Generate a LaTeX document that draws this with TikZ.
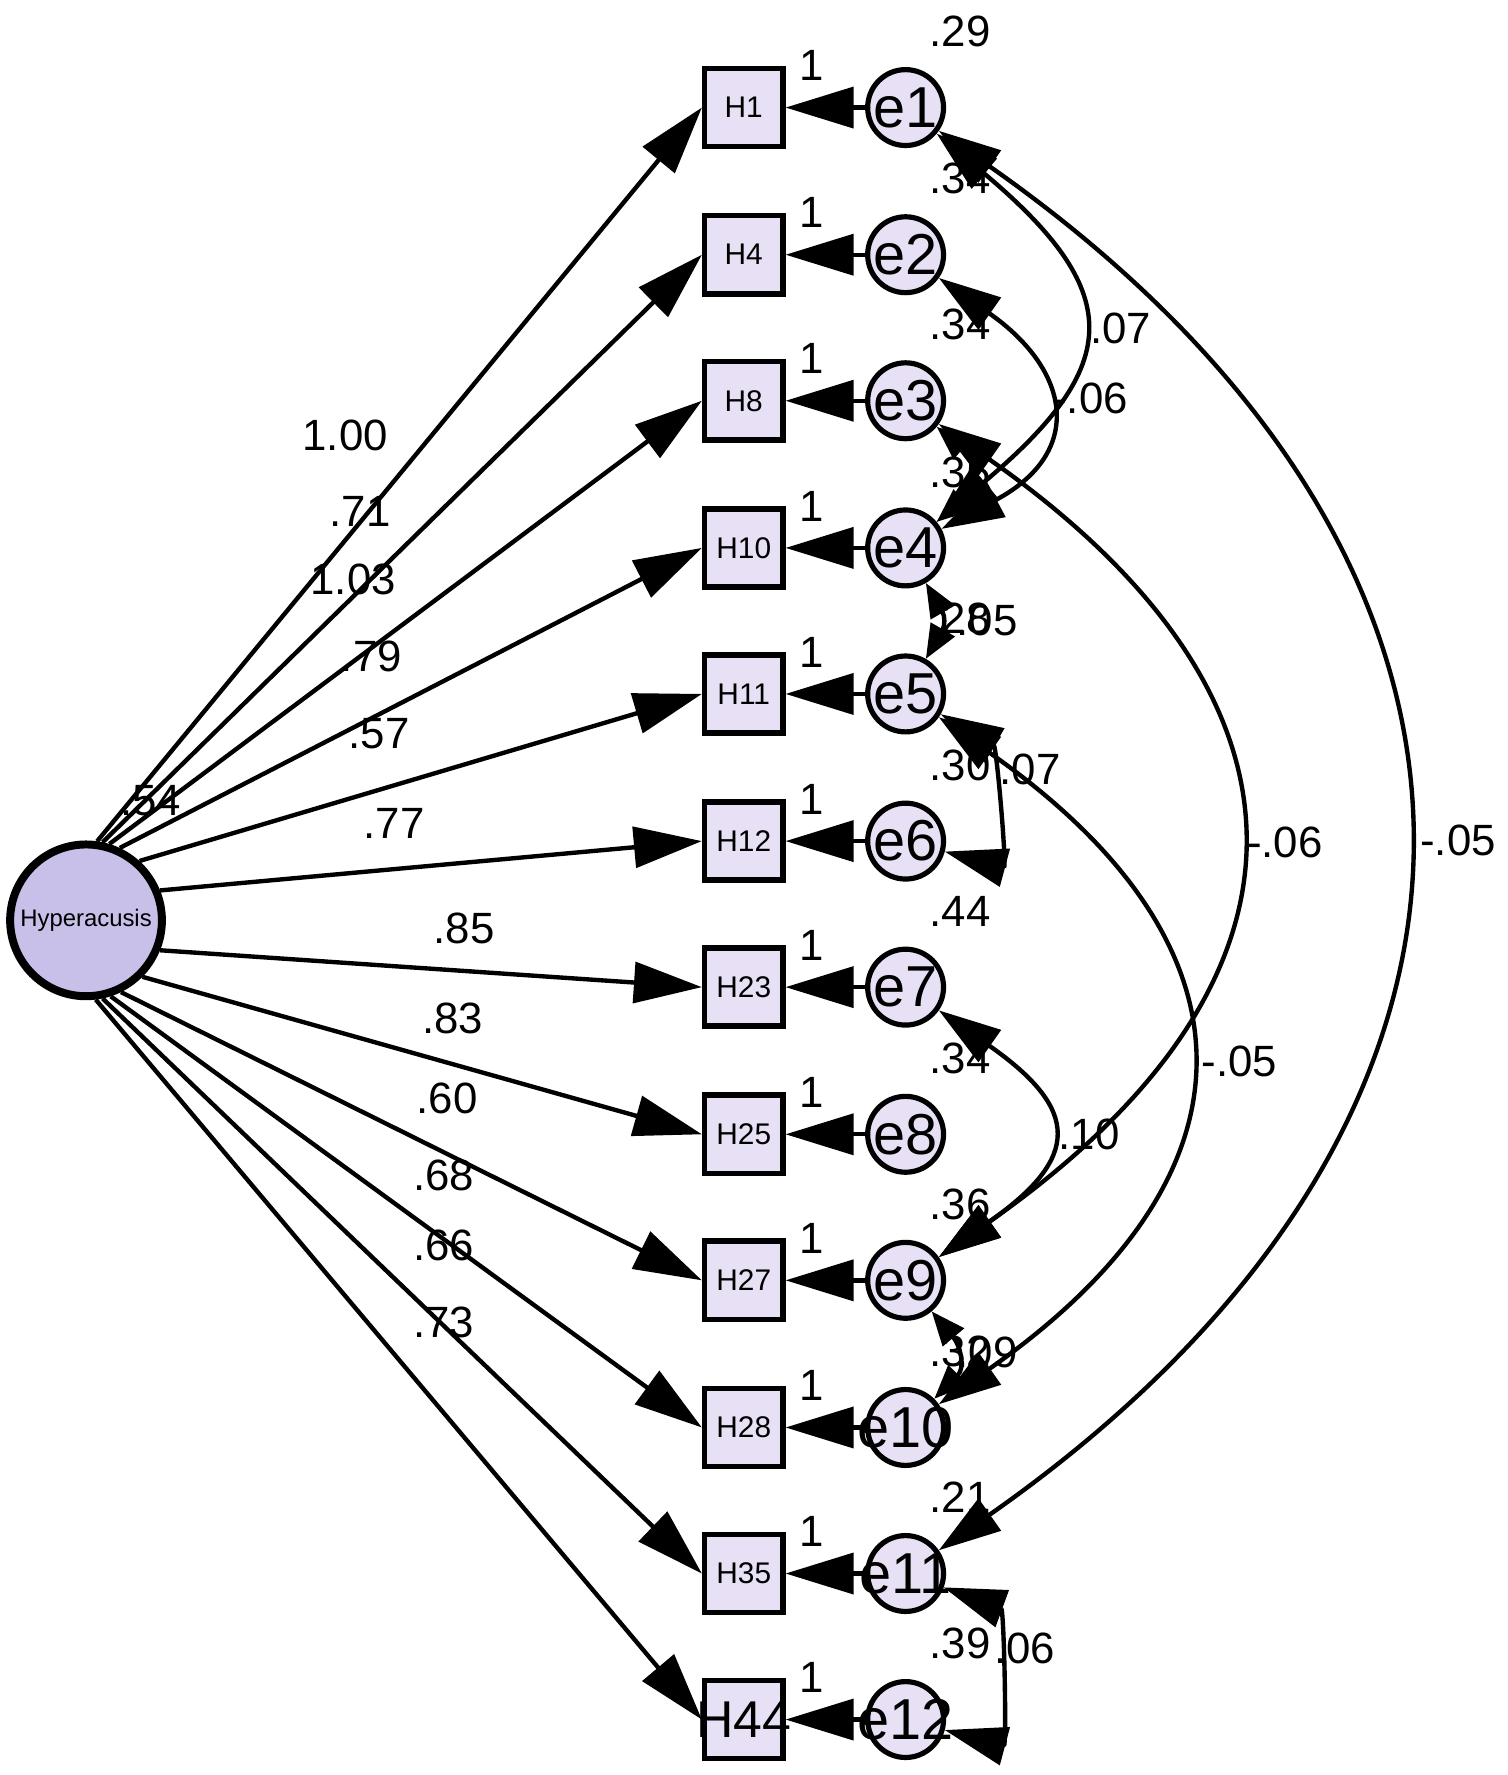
\documentclass[tikz,border=0pt]{standalone}
\usepackage{fontspec}
\setmainfont{Liberation Sans}
\usetikzlibrary{arrows.meta}

\definecolor{latentfill}{RGB}{200,192,232}
\definecolor{itemfill}{RGB}{232,224,244}

\newcommand\numfont{\fontsize{11}{13}\selectfont}
\newcommand\elfont{\fontsize{14.5}{17}\selectfont}
\newcommand\boxfont{\fontsize{7.5}{9}\selectfont}
\newcommand\hypfont{\fontsize{6}{7}\selectfont}

\tikzset{
  latent/.style={circle, draw, line width=2pt, fill=latentfill, minimum size=1.34cm, inner sep=0pt, font=\hypfont},
  obsbox/.style={rectangle, draw, line width=1.4pt, fill=itemfill, minimum size=0.69cm, inner sep=0pt, font=\boxfont},
  errvar/.style={circle, draw, line width=1.3pt, fill=itemfill, minimum size=0.67cm, inner sep=0pt, font=\elfont},
  loading/.style={line width=1.1pt, -{Triangle[length=0.6cm,width=0.36cm]}},
  cov/.style={line width=1.1pt, {Triangle[length=0.55cm,width=0.34cm]}-{Triangle[length=0.55cm,width=0.34cm]}},
  covshort/.style={line width=1.1pt, {Triangle[length=0.3cm,width=0.24cm]}-{Triangle[length=0.3cm,width=0.24cm]}},
  est/.style={font=\numfont, inner sep=0pt}
}

\begin{document}
\begin{tikzpicture}[x=0.01cm, y=0.01cm]
\useasboundingbox (0,0) rectangle (1332,-1568);

\node[est] at (133,-707) {.54};
\foreach \t/\x/\y in {1.00/305/385, .71/318/452, 1.03/312/512, .79/328/580, .57/335/648, .77/348/727,
    .85/410/820, .83/400/900, .60/395/970, .68/392/1038, .66/392/1100, .73/392/1168}
  \node[est] at (\x,-\y) {\t};

\node[latent] (hyp) at (76,-813) {\makebox[0pt]{Hyperacusis}};

\foreach \i/\h/\v/\y in {1/H1/.29/95, 2/H4/.34/225, 3/H8/.34/354, 4/H10/.35/484, 5/H11/.28/613, 6/H12/.30/743,
    7/H23/.44/872, 8/H25/.34/1002, 9/H27/.36/1131, 10/H28/.32/1261, 11/H35/.21/1390,
    12/{\fontsize{13}{15}\selectfont H44}/.39/1519} {
  \node[obsbox] (h\i) at (657,-\y) {\makebox[0pt]{\h}};
  \node[errvar] (e\i) at (800,-\y) {\makebox[0pt]{e\i}};
  \node[est] at (848,-\y+67) {\v};
  \node[est] at (717,-\y+37) {1};
  \draw[loading] (e\i) -- (h\i);
}

\foreach \i/\a in {1/82, 2/78, 3/73, 4/65, 5/48, 6/22, 7/-22, 8/-45, 9/-64, 10/-72, 11/-78, 12/-83}
  \draw[loading] (hyp.\a) -- (h\i.west);

\draw[cov] (e1) to[out=-35,in=35,looseness=1.36] (e11);
\draw[cov] (e3) to[out=-35,in=35,looseness=1.48] (e9);
\draw[cov] (e5) to[out=-35,in=35,looseness=1.49] (e10);
\draw[cov] (e1) to[out=-40,in=40,looseness=1.62] (e4);
\draw[cov] (e2) to[out=-35,in=28,looseness=1.65] (e4);
\draw[cov] (e7) to[out=-35,in=35,looseness=1.8] (e9);
\draw[cov] (e5) to[out=-30,in=-15,looseness=1.2] (e6);
\draw[cov] (e11) to[out=-20,in=-15,looseness=1.15] (e12);
\draw[covshort] (e3) to[out=-40,in=40,looseness=1.4] (e4);
\draw[covshort] (e4) to[out=-60,in=60,looseness=1.3] (e5);
\draw[covshort] (e9) to[out=-50,in=45,looseness=1.3] (e10);

\node[est] at (990,-290) {.07};
\node[est] at (963,-352) {-.06};
\node[est] at (872,-548) {.05};
\node[est] at (910,-680) {.07};
\node[est] at (1135,-744) {-.06};
\node[est] at (1095,-938) {-.05};
\node[est] at (1288,-742) {-.05};
\node[est] at (962,-1002) {.10};
\node[est] at (872,-1195) {.09};
\node[est] at (905,-1456) {.06};
\end{tikzpicture}
\end{document}
